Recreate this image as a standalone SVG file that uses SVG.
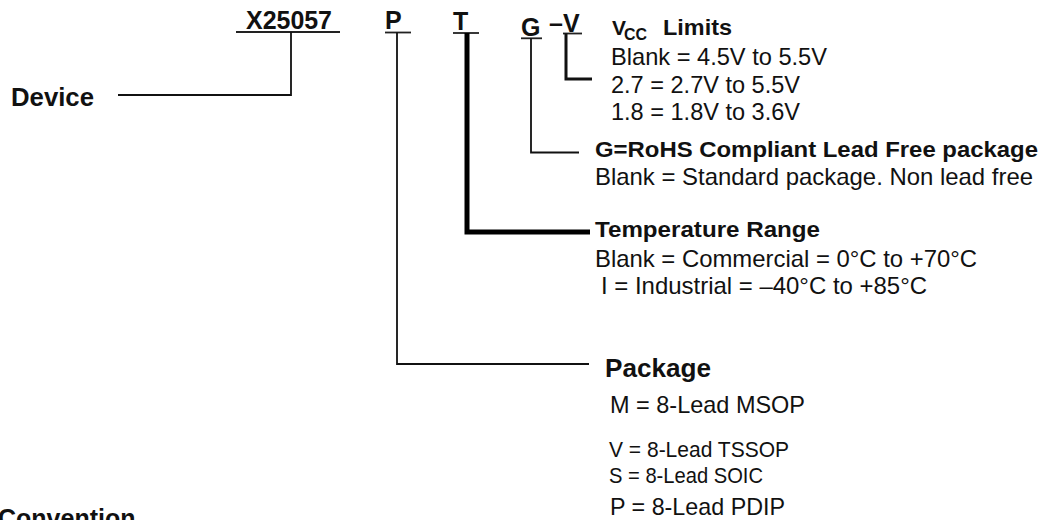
<svg xmlns="http://www.w3.org/2000/svg" width="1044" height="520" viewBox="0 0 1044 520">
<style>
  text { font-family: "Liberation Sans", Arial, Helvetica, sans-serif; fill: #111; }
  .b { font-weight: bold; }
  .code { font-size: 25px; font-weight: bold; }
  .desc { font-size: 24px; }
  .head { font-size: 22px; font-weight: bold; }
  .ul { stroke: #222; stroke-width: 1.8; fill: none; }
  .thin { stroke: #111; stroke-width: 1.8; fill: none; }
  .mid { stroke: #111; stroke-width: 3; fill: none; }
  .thick { stroke: #000; stroke-width: 5; fill: none; }
</style>
<rect width="1044" height="520" fill="#fff"/>

<g id="code-device">
  <text class="code" x="246" y="28.5" textLength="86" lengthAdjust="spacingAndGlyphs">X25057</text>
  <line class="ul" x1="236" y1="32" x2="340" y2="32"/>
</g>
<g id="code-package">
  <text class="code" x="385" y="29">P</text>
  <line class="ul" x1="385" y1="32.5" x2="411" y2="32.5"/>
</g>
<g id="code-temp">
  <text class="code" x="453" y="30">T</text>
  <line class="ul" x1="453" y1="33" x2="479" y2="33"/>
</g>
<g id="code-rohs">
  <text class="code" x="521" y="36">G</text>
  <line class="ul" x1="521" y1="38.3" x2="542" y2="38.3"/>
</g>
<g id="code-vcc">
  <text class="code" x="549" y="32">–V</text>
  <line class="ul" x1="563" y1="33.5" x2="582" y2="33.5"/>
</g>

<g id="connectors">
  <polyline class="thin" points="291,32 291,95 118,95"/>
  <polyline class="thin" points="397,32.5 397,364 589,364"/>
  <polyline class="thick" points="467,33 467,232 590,232"/>
  <polyline class="thin" points="531,38.3 531,152.5 579,152.5"/>
  <polyline class="mid" points="566,33.5 566,79 592,79"/>
</g>

<g id="device">
  <text class="code" x="11" y="106" font-size="25.5" textLength="83" lengthAdjust="spacingAndGlyphs">Device</text>
</g>

<g id="vcc-limits">
  <text class="b" x="612" y="35" font-size="21">V</text>
  <text class="b" x="624" y="40" font-size="16" textLength="23" lengthAdjust="spacingAndGlyphs">CC</text>
  <text class="b" x="663" y="35" font-size="22" textLength="69" lengthAdjust="spacingAndGlyphs">Limits</text>
  <text class="desc" x="611" y="65" textLength="216" lengthAdjust="spacingAndGlyphs">Blank = 4.5V to 5.5V</text>
  <text class="desc" x="611" y="92.5" textLength="189" lengthAdjust="spacingAndGlyphs">2.7 = 2.7V to 5.5V</text>
  <text class="desc" x="611" y="120" textLength="189" lengthAdjust="spacingAndGlyphs">1.8 = 1.8V to 3.6V</text>
</g>

<g id="rohs">
  <text class="head" x="595" y="157" textLength="443" lengthAdjust="spacingAndGlyphs">G=RoHS Compliant Lead Free package</text>
  <text class="desc" x="595" y="185" textLength="438" lengthAdjust="spacingAndGlyphs">Blank = Standard package. Non lead free</text>
</g>

<g id="temperature">
  <text class="head" x="595" y="236.5" textLength="225" lengthAdjust="spacingAndGlyphs">Temperature Range</text>
  <text class="desc" x="595" y="266.5" textLength="382" lengthAdjust="spacingAndGlyphs">Blank = Commercial = 0°C to +70°C</text>
  <text class="desc" x="601" y="294" textLength="326" lengthAdjust="spacingAndGlyphs">I = Industrial = –40°C to +85°C</text>
</g>

<g id="package">
  <text class="b" x="605" y="377" font-size="25" textLength="106" lengthAdjust="spacingAndGlyphs">Package</text>
  <text x="610" y="413" font-size="24" textLength="195" lengthAdjust="spacingAndGlyphs">M = 8-Lead MSOP</text>
  <text x="609" y="457" font-size="22" textLength="180" lengthAdjust="spacingAndGlyphs">V = 8-Lead TSSOP</text>
  <text x="609" y="483" font-size="22" textLength="154" lengthAdjust="spacingAndGlyphs">S = 8-Lead SOIC</text>
  <text x="610" y="515" font-size="24" textLength="175" lengthAdjust="spacingAndGlyphs">P = 8-Lead PDIP</text>
</g>

<g id="convention">
  <text class="b" x="-2" y="527" font-size="25">Convention</text>
</g>
</svg>
